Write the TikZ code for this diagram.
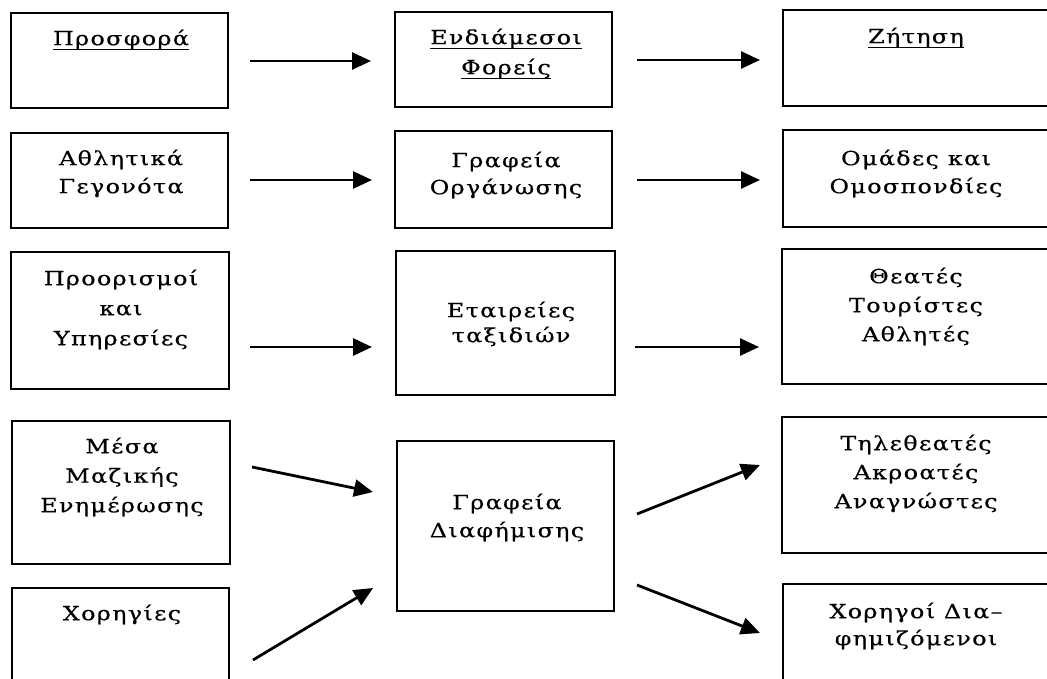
\documentclass[tikz,border=0pt]{standalone}
\usepackage{fontspec}
\usetikzlibrary{arrows.meta,fit}
\newfontfamily\gfont{DejaVu Serif}[LetterSpace=7,FakeStretch=1.22,FakeBold=0.5]
\newcommand\fs{\rule{0pt}{18pt}}
\newcommand\ulx[1]{\setbox0\hbox{#1}\rlap{\rule[-5pt]{\wd0}{1.6pt}}\box0}
\tikzset{
  box/.style={draw, line width=2.8pt, inner sep=0pt},
  txt/.style={anchor=north, inner sep=0pt, align=center, font={\gfont\fontsize{19.5}{28}\selectfont}},
  arr/.style={line width=2.8pt, -{Triangle[length=19pt,width=17pt]}}
}
\begin{document}
\begin{tikzpicture}[x=1pt,y=-1pt]
\useasboundingbox (0,0) rectangle (1047,679);
\clip (0,0) rectangle (1047,679);
% left column
\node[box, fit={(11,13) (228,108)}] (A1) {};
\node[box, fit={(11,133) (228,228)}] (A2) {};
\node[box, fit={(11,252) (229,389)}] (A3) {};
\node[box, fit={(12,421) (230,564)}] (A4) {};
\node[box, fit={(12,588) (229,700)}] (A5) {};
% middle column
\node[box, fit={(395,12) (612,107)}] (B1) {};
\node[box, fit={(395,131) (612,228)}] (B2) {};
\node[box, fit={(396,251) (615,395)}] (B3) {};
\node[box, fit={(397,441) (614,611)}] (B4) {};
% right column
\node[box, fit={(783,10) (1060,106)}] (C1) {};
\node[box, fit={(783,130) (1060,227)}] (C2) {};
\node[box, fit={(782,249) (1060,384)}] (C3) {};
\node[box, fit={(782,417) (1060,553)}] (C4) {};
\node[box, fit={(783,584) (1060,700)}] (C5) {};
% texts
\node[txt] (tA1) at (121,45-18) {\fs\ulx{Προσφορά}};
\node[txt] (tA2) at (121,165-18) {\fs Αθλητικά\\Γεγονότα};
\node[txt, font={\gfont\fontsize{19.5}{30}\selectfont}] (tA3) at (121,285-18) {\fs Προορισμοί\\και\\Υπηρεσίες};
\node[txt, font={\gfont\fontsize{19.5}{29.5}\selectfont}] (tA4) at (122,453-18) {\fs Μέσα\\Μαζικής\\Ενημέρωσης};
\node[txt] (tA5) at (122,620-18) {\fs Χορηγίες};
\node[txt, font={\gfont\fontsize{19.5}{30}\selectfont}] (tB1) at (506,44-18) {\fs\ulx{Ενδιάμεσοι}\\\ulx{Φορείς}};
\node[txt, font={\gfont\fontsize{19.5}{27}\selectfont}] (tB2) at (506,167-18) {\fs Γραφεία\\Οργάνωσης};
\node[txt, font={\gfont\fontsize{19.5}{25}\selectfont}] (tB3) at (511,317-18) {\fs Εταιρείες\\ταξιδιών};
\node[txt] (tB4) at (507,509-18) {\fs Γραφεία\\Διαφήμισης};
\node[txt] (tC1) at (916,43-18) {\fs\ulx{Ζήτηση}};
\node[txt] (tC2) at (916,165-18) {\fs Ομάδες και\\Ομοσπονδίες};
\node[txt, font={\gfont\fontsize{19.5}{29}\selectfont}] (tC3) at (916,283-18) {\fs Θεατές\\Τουρίστες\\Αθλητές};
\node[txt, font={\gfont\fontsize{19.5}{29}\selectfont}] (tC4) at (916,450-18) {\fs Τηλεθεατές\\Ακροατές\\Αναγνώστες};
\node[txt, font={\gfont\fontsize{19.5}{27}\selectfont}] (tC5) at (916,618-18) {\fs Χορηγοί Δια–\\φημιζόμενοι};
% arrow end points
\coordinate (a1s) at (250,61);  \coordinate (a1e) at (371,61);
\coordinate (a2s) at (250,180); \coordinate (a2e) at (372,180);
\coordinate (a3s) at (250,347); \coordinate (a3e) at (372,347);
\coordinate (a4s) at (252,467); \coordinate (a4e) at (373,492);
\coordinate (a5s) at (253,660); \coordinate (a5e) at (373,588);
\coordinate (b1s) at (637,60);  \coordinate (b1e) at (760,60);
\coordinate (b2s) at (637,180); \coordinate (b2e) at (760,180);
\coordinate (b3s) at (635,347); \coordinate (b3e) at (759,347);
\coordinate (b4s) at (637,514); \coordinate (b4e) at (760,465);
\coordinate (b5s) at (637,585); \coordinate (b5e) at (760,633);
\draw[arr] (a1s) -- (a1e);
\draw[arr] (a2s) -- (a2e);
\draw[arr] (a3s) -- (a3e);
\draw[arr] (a4s) -- (a4e);
\draw[arr] (a5s) -- (a5e);
\draw[arr] (b1s) -- (b1e);
\draw[arr] (b2s) -- (b2e);
\draw[arr] (b3s) -- (b3e);
\draw[arr] (b4s) -- (b4e);
\draw[arr] (b5s) -- (b5e);
\end{tikzpicture}
\end{document}
